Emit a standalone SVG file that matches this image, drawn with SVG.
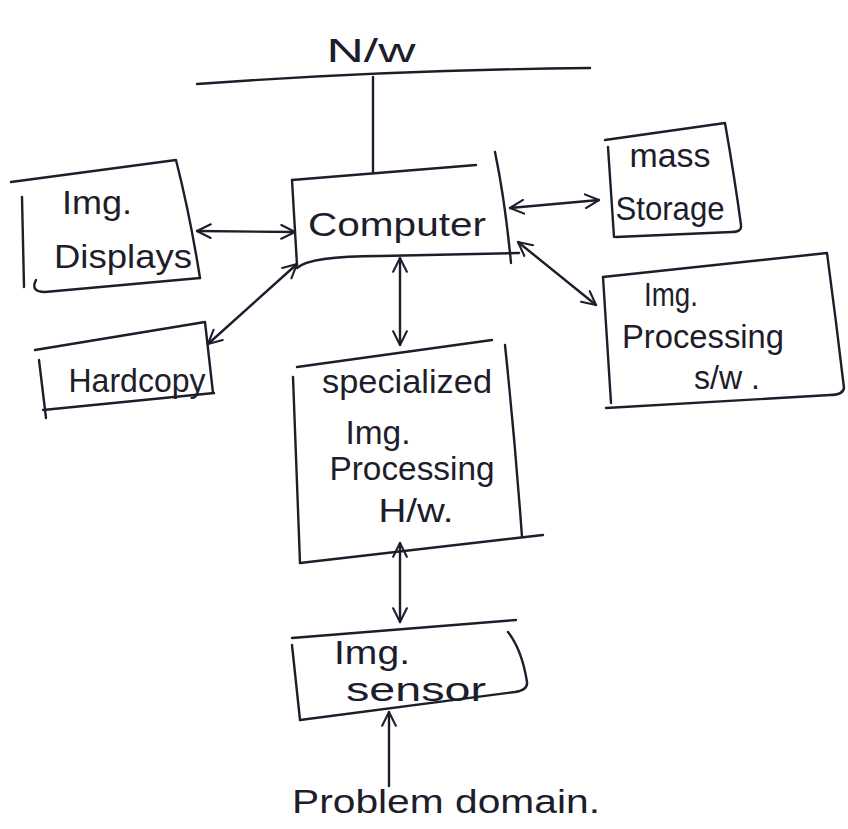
<svg xmlns="http://www.w3.org/2000/svg" width="848" height="829" viewBox="0 0 848 829">
<style>
.ln{fill:none;stroke:#1d1d2b;stroke-width:2.4;stroke-linecap:round;stroke-linejoin:round}
.t{font-family:"Liberation Sans","DejaVu Sans",sans-serif;fill:#1d1d2b;text-anchor:middle;font-size:33px}
</style>
<defs>
<marker id="ah" viewBox="0 0 14 14" refX="13" refY="7" markerWidth="16" markerHeight="16" markerUnits="userSpaceOnUse" orient="auto-start-reverse">
<path d="M1,1 L13,7 L1,13" fill="none" stroke="#1d1d2b" stroke-width="1.8" stroke-linecap="round" stroke-linejoin="round"/>
</marker>
</defs>
<rect width="848" height="829" fill="#ffffff"/>

<g id="network">
<path class="ln" d="M197,84 Q390,70 590,68"/>
<text class="t" x="371" y="62" font-size="46" textLength="89" lengthAdjust="spacingAndGlyphs">N/w</text>
</g>

<g id="computer">
<path class="ln" d="M292,180 L476,165"/>
<path class="ln" d="M292,180 L297,265"/>
<path class="ln" d="M297,268 Q310,256 380,256 L519,253"/>
<path class="ln" d="M495,152 Q505,200 511,263"/>
<text class="t" x="397" y="236" font-size="36" textLength="178" lengthAdjust="spacingAndGlyphs">Computer</text>
</g>

<g id="img-displays">
<path class="ln" d="M11,182 L176,160 Q190,215 200,278"/>
<path class="ln" d="M22,197 L24,287"/>
<path class="ln" d="M36,280 Q30,292 45,292 L200,278"/>
<text class="t" x="97" y="214" textLength="70" lengthAdjust="spacingAndGlyphs">Img.</text>
<text class="t" x="123" y="268" textLength="138" lengthAdjust="spacingAndGlyphs">Displays</text>
</g>

<g id="hardcopy">
<path class="ln" d="M35,350 L205,322 L213,393"/>
<path class="ln" d="M39,360 L46,418"/>
<path class="ln" d="M43,410 L214,393"/>
<text class="t" x="137" y="392" textLength="137" lengthAdjust="spacingAndGlyphs">Hardcopy</text>
</g>

<g id="mass-storage">
<path class="ln" d="M605,140 L725,123 Q735,180 741,225 Q742,232 732,232 L616,237"/>
<path class="ln" d="M608,147 L614,237"/>
<text class="t" x="670" y="167" font-size="30" textLength="81" lengthAdjust="spacingAndGlyphs">mass</text>
<text class="t" x="670" y="220" textLength="109" lengthAdjust="spacingAndGlyphs">Storage</text>
</g>

<g id="img-processing-sw">
<path class="ln" d="M603,277 L827,253 Q836,320 844,388 Q843,395 830,395 L606,408"/>
<path class="ln" d="M603,277 L611,403"/>
<text class="t" x="671" y="306" textLength="54" lengthAdjust="spacingAndGlyphs">Img.</text>
<text class="t" x="703" y="348" textLength="162" lengthAdjust="spacingAndGlyphs">Processing</text>
<text class="t" x="727" y="389" textLength="66" lengthAdjust="spacingAndGlyphs">s/w .</text>
</g>

<g id="specialized-hw">
<path class="ln" d="M297,367 L492,340"/>
<path class="ln" d="M505,345 Q515,440 522,537"/>
<path class="ln" d="M293,377 L300,563"/>
<path class="ln" d="M300,563 L543,535"/>
<text class="t" x="407" y="393" textLength="170" lengthAdjust="spacingAndGlyphs">specialized</text>
<text class="t" x="378" y="444" textLength="65" lengthAdjust="spacingAndGlyphs">Img.</text>
<text class="t" x="412" y="480" textLength="165" lengthAdjust="spacingAndGlyphs">Processing</text>
<text class="t" x="416" y="522" textLength="75" lengthAdjust="spacingAndGlyphs">H/w.</text>
</g>

<g id="img-sensor">
<path class="ln" d="M292,638 L516,620"/>
<path class="ln" d="M508,632 Q522,650 527,682 Q528,690 515,692 L300,720"/>
<path class="ln" d="M292,645 L300,720"/>
<text class="t" x="372" y="664" font-size="29" textLength="76" lengthAdjust="spacingAndGlyphs">Img.</text>
<text class="t" x="416" y="701" font-size="30" textLength="140" lengthAdjust="spacingAndGlyphs">sensor</text>
</g>

<g id="problem-domain">
<text class="t" x="446" y="813" font-size="40" textLength="308" lengthAdjust="spacingAndGlyphs">Problem domain.</text>
</g>

<g id="connectors">
<path class="ln" d="M373,77 L373,172"/>
<path class="ln" d="M197,231 L295,232" marker-start="url(#ah)" marker-end="url(#ah)"/>
<path class="ln" d="M510,208 L599,200" marker-start="url(#ah)" marker-end="url(#ah)"/>
<path class="ln" d="M518,242 L596,305" marker-start="url(#ah)" marker-end="url(#ah)"/>
<path class="ln" d="M297,264 L208,344" marker-start="url(#ah)" marker-end="url(#ah)"/>
<path class="ln" d="M400,258 L400,345" marker-start="url(#ah)" marker-end="url(#ah)"/>
<path class="ln" d="M400,543 L400,622" marker-start="url(#ah)" marker-end="url(#ah)"/>
<path class="ln" d="M389,786 L389,712" marker-end="url(#ah)"/>
</g>
</svg>
